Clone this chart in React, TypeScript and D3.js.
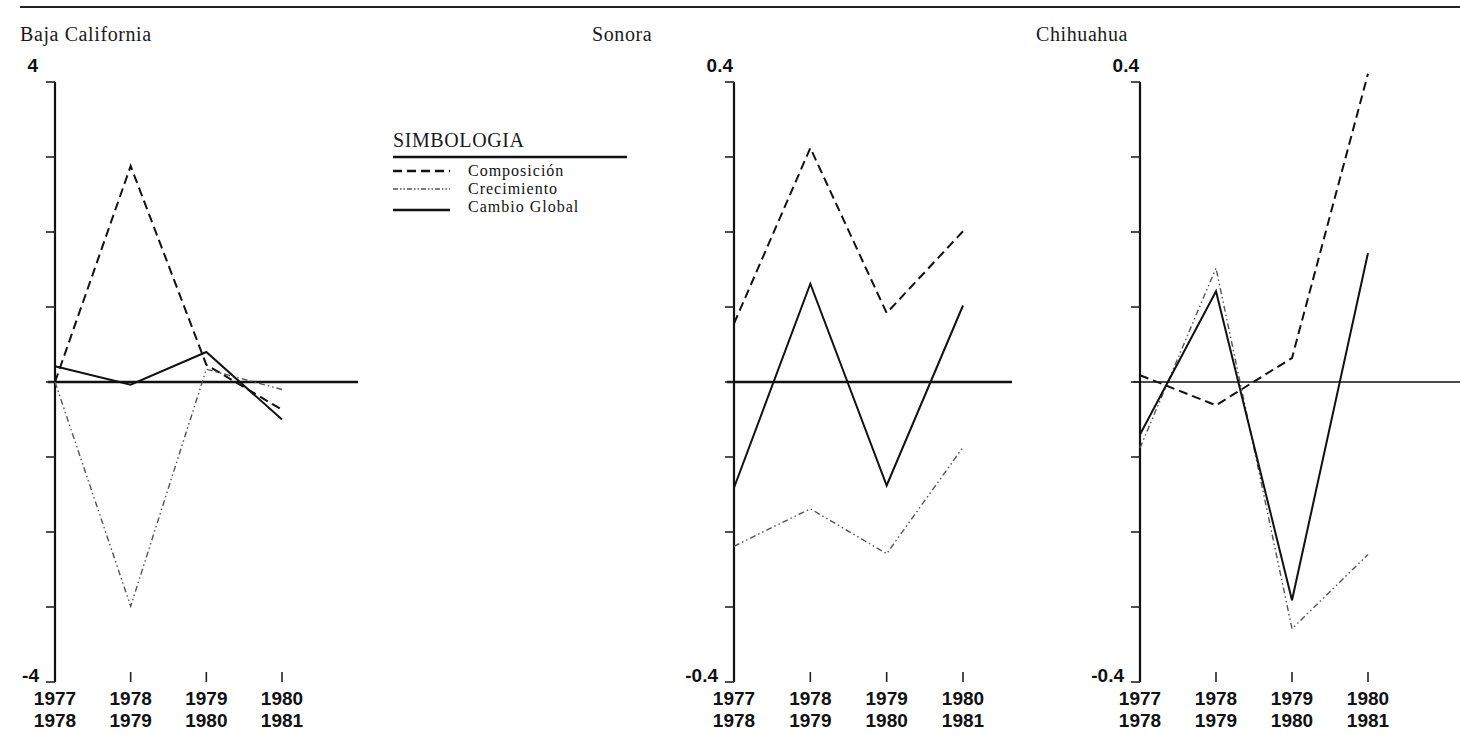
import * as d3 from 'd3'

// period labels, two lines each
const periodTop = ['1977', '1978', '1979', '1980']
const periodBottom = ['1978', '1979', '1980', '1981']

const states = ['Baja California', 'Sonora', 'Chihuahua']
const yMax = [4, 0.4, 0.4]
const topLabels = ['4', '0.4', '0.4']
const bottomLabels = ['-4', '-0.4', '-0.4']

// values
const composicion = [
  [0.0, 2.88, 0.23, -0.37],
  [0.078, 0.312, 0.092, 0.201],
  [0.009, -0.031, 0.032, 0.411],
]
const crecimiento = [
  [0.0, -2.99, 0.17, -0.1],
  [-0.219, -0.169, -0.229, -0.087],
  [-0.088, 0.152, -0.329, -0.23],
]
const cambioGlobal = [
  [0.21, -0.035, 0.4, -0.5],
  [-0.141, 0.131, -0.138, 0.102],
  [-0.07, 0.121, -0.291, 0.172],
]

const legendItems = ['Composición', 'Crecimiento', 'Cambio Global']

const serif = '"Liberation Serif", "Times New Roman", serif'
const sans = '"Liberation Sans", Arial, sans-serif'

const styles = [
  { stroke: '#111', width: 2, dash: '9 5' },
  { stroke: '#555', width: 1.4, dash: '6 3 1.5 3 1.5 3' },
  { stroke: '#111', width: 2, dash: null },
]

// layout of each panel
const panels = [
  { axisX: 55, lastX: 282, zeroEnd: 358, zeroW: 2.5, titleX: 20 },
  { axisX: 734, lastX: 963, zeroEnd: 1012, zeroW: 2.5, titleX: 592 },
  { axisX: 1140, lastX: 1368, zeroEnd: 1460, zeroW: 1.3, titleX: 1036 },
]

const top = 82
const bottom = 682

function Panel({ i }: { i: number }) {
  const p = panels[i]
  const x = d3.scalePoint<number>().domain([0, 1, 2, 3]).range([p.axisX, p.lastX])
  const y = d3.scaleLinear().domain([-yMax[i], yMax[i]]).range([bottom, top])
  const ticks = d3.range(-4, 5).map(k => (k * yMax[i]) / 4)
  const line = d3
    .line<number>()
    .x((_, j) => x(j) as number)
    .y(d => y(d))
  const series = [composicion[i], crecimiento[i], cambioGlobal[i]]

  return (
    <g>
      <text x={p.titleX} y={41} fontFamily={serif} fontSize={20} letterSpacing={0.6} fill="#1a1a1a">
        {states[i]}
      </text>
      {/* zero line */}
      <line x1={p.axisX - 7} x2={p.zeroEnd} y1={y(0)} y2={y(0)} stroke="#111" strokeWidth={p.zeroW} />
      {/* axis */}
      <line x1={p.axisX} x2={p.axisX} y1={y(yMax[i])} y2={y(-yMax[i])} stroke="#111" strokeWidth={2.2} />
      {ticks.map((t, k) => (
        <line key={k} x1={p.axisX - 9} x2={p.axisX} y1={y(t)} y2={y(t)} stroke="#222" strokeWidth={1.6} />
      ))}
      <text
        x={i === 0 ? p.axisX - 17 : p.axisX - 1}
        y={top - 10}
        textAnchor="end"
        fontFamily={sans}
        fontWeight={700}
        fontSize={19}
        fill="#111"
      >
        {topLabels[i]}
      </text>
      <text x={p.axisX - 16} y={bottom} textAnchor="end" fontFamily={sans} fontWeight={700} fontSize={19} fill="#111">
        {bottomLabels[i]}
      </text>
      {/* x ticks and labels */}
      {periodTop.map((lab, j) => (
        <g key={j}>
          {j > 0 && (
            <line x1={x(j)} x2={x(j)} y1={bottom - 10} y2={bottom} stroke="#222" strokeWidth={1.6} />
          )}
          <text x={x(j)} y={705} textAnchor="middle" fontFamily={sans} fontWeight={700} fontSize={19} fill="#111">
            {lab}
          </text>
          <text x={x(j)} y={727} textAnchor="middle" fontFamily={sans} fontWeight={700} fontSize={19} fill="#111">
            {periodBottom[j]}
          </text>
        </g>
      ))}
      {series.map((s, k) => (
        <path
          key={k}
          d={line(s) ?? ''}
          fill="none"
          stroke={styles[k].stroke}
          strokeWidth={styles[k].width}
          strokeDasharray={styles[k].dash ?? undefined}
          strokeLinejoin="miter"
        />
      ))}
    </g>
  )
}

function Legend() {
  const rowY = [171, 189, 210]
  const textY = [176, 194, 212]
  return (
    <g>
      <text x={393} y={147} fontFamily={serif} fontSize={20} letterSpacing={0.6} fill="#1a1a1a">
        SIMBOLOGIA
      </text>
      <line x1={393} x2={627} y1={157} y2={157} stroke="#111" strokeWidth={2.5} />
      {legendItems.map((name, k) => (
        <g key={name}>
          <line
            x1={393}
            x2={450}
            y1={rowY[k]}
            y2={rowY[k]}
            stroke={styles[k].stroke}
            strokeWidth={k === 1 ? 1.6 : 2.4}
            strokeDasharray={k === 0 ? '9 5' : k === 1 ? '5 2 1.5 2 1.5 2' : undefined}
          />
          <text x={468} y={textY[k]} fontFamily={serif} fontSize={16} letterSpacing={1} fill="#111">
            {name}
          </text>
        </g>
      ))}
    </g>
  )
}

export default function App() {
  return (
    <svg
      width={1460}
      height={734}
      style={{ position: 'absolute', left: 0, top: 0, background: '#fff' }}
    >
      <rect width={1460} height={734} fill="#fff" />
      <line x1={20} x2={1460} y1={7} y2={7} stroke="#222" strokeWidth={2} />
      {states.map((_, i) => (
        <Panel key={i} i={i} />
      ))}
      <Legend />
    </svg>
  )
}
